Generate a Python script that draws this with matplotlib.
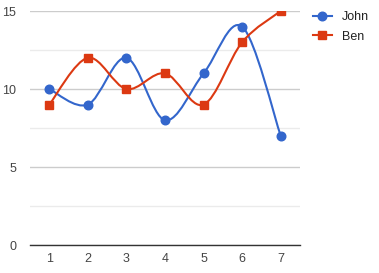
import matplotlib

matplotlib.use("Agg")
import matplotlib.pyplot as plt  # noqa: E402
import numpy as np  # noqa: E402
from matplotlib.path import Path  # noqa: E402
from matplotlib.patches import PathPatch  # noqa: E402
from matplotlib.lines import Line2D  # noqa: E402

categories = ["1", "2", "3", "4", "5", "6", "7"]
john = [10, 9, 12, 8, 11, 14, 7]
ben = [9, 12, 10, 11, 9, 13, 15]
y_ticks = [0, 5, 10, 15]

BLUE = "#3366cc"
RED = "#dc3912"

plt.rcParams["font.family"] = ["Liberation Sans", "DejaVu Sans"]


def smooth_path(xs, ys, k=1 / 6):
    # cubic bezier through the points, catmull-rom style tangents
    xs = np.asarray(xs, float)
    ys = np.asarray(ys, float)
    n = len(xs)
    verts = [(xs[0], ys[0])]
    codes = [Path.MOVETO]
    for i in range(n - 1):
        p0 = i - 1 if i > 0 else i
        p3 = i + 2 if i + 2 < n else i + 1
        c1 = (xs[i] + (xs[i + 1] - xs[p0]) * k, ys[i] + (ys[i + 1] - ys[p0]) * k)
        c2 = (xs[i + 1] - (xs[p3] - xs[i]) * k, ys[i + 1] - (ys[p3] - ys[i]) * k)
        verts += [c1, c2, (xs[i + 1], ys[i + 1])]
        codes += [Path.CURVE4] * 3
    return Path(verts, codes)


fig = plt.figure(figsize=(3.79, 2.73), dpi=100)
ax = fig.add_axes([30 / 379, 1 - 245 / 273, 270 / 379, 234 / 273])

x = np.arange(1, len(categories) + 1)
for ys, color, marker, ms in [(john, BLUE, "o", 6.2), (ben, RED, "s", 6.4)]:
    ax.add_patch(PathPatch(smooth_path(x, ys), fill=False, edgecolor=color,
                           lw=1.5, zorder=3))
    ax.plot(x, ys, ls="none", marker=marker, ms=ms, color=color, zorder=4)

ax.set_xlim(0.5, len(categories) + 0.5)
ax.set_ylim(0, 15)
ax.set_xticks(x)
ax.set_xticklabels(categories)
ax.set_yticks(y_ticks)
ax.set_yticks([2.5, 7.5, 12.5], minor=True)
ax.grid(True, axis="y", which="major", color="#cccccc", lw=1)
ax.grid(True, axis="y", which="minor", color="#ebebeb", lw=1)
ax.set_axisbelow(True)
for side in ["top", "right", "left"]:
    ax.spines[side].set_visible(False)
ax.spines["bottom"].set_color("#333333")
ax.spines["bottom"].set_linewidth(1)
ax.tick_params(axis="both", which="both", length=0, labelsize=9, colors="#444444")
ax.tick_params(axis="y", pad=10)
ax.tick_params(axis="x", pad=6)

handles = [
    Line2D([], [], color=BLUE, lw=1.5, marker="o", ms=6.2),
    Line2D([], [], color=RED, lw=1.5, marker="s", ms=6.4),
]
fig.legend(handles, ["John", "Ben"], loc="upper left",
           bbox_to_anchor=(308 / 379, 1 - 6 / 273), frameon=False,
           fontsize=9, handlelength=1.5, handletextpad=0.8, labelspacing=0.6,
           labelcolor="#222222", borderaxespad=0)

fig.savefig("out.png", dpi=100)
